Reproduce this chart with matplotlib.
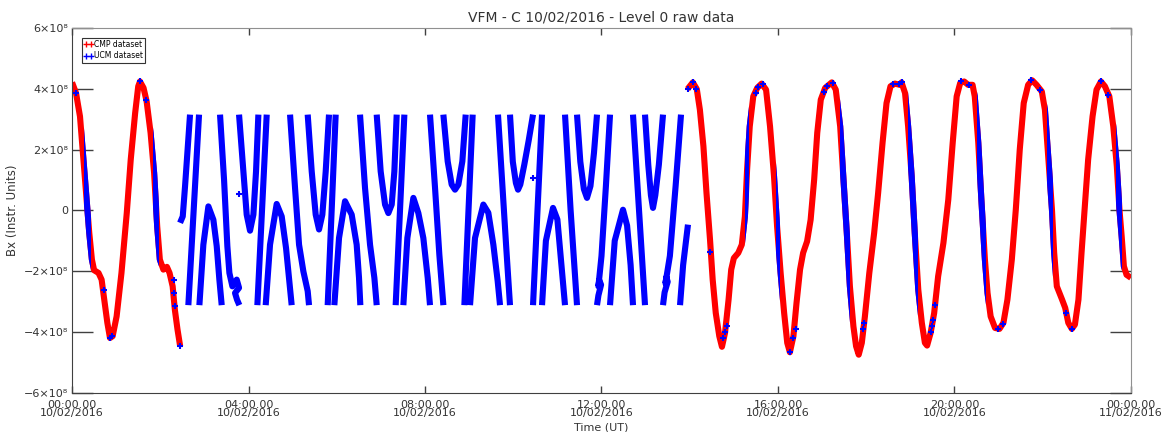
import numpy as np
import matplotlib.pyplot as plt
from matplotlib.lines import Line2D
from matplotlib.patches import Rectangle

nan = np.nan

# CMP dataset (red): hours after 00:00 UT 10/02/2016, Bx in units of 1e8
cmp_t1 = [0.00, 0.09, 0.18, 0.27, 0.33, 0.39, 0.45, 0.50, 0.60, 0.67, 0.73, 0.80,
          0.86, 0.92, 1.01, 1.12, 1.24, 1.33, 1.43, 1.50, 1.54, 1.62, 1.69, 1.78,
          1.86, 1.93, 1.99, 2.07, 2.15, 2.21, 2.28, 2.33, 2.39, 2.45]
cmp_v1 = [4.21, 3.86, 3.09, 1.45, 0.35, -0.74, -1.62, -1.97, -2.06, -2.28, -2.94, -3.70,
          -4.20, -4.14, -3.49, -2.06, -0.09, 1.67, 3.20, 4.08, 4.24, 4.03, 3.59, 2.55,
          1.23, -0.53, -1.62, -1.95, -1.86, -2.06, -2.50, -3.27, -3.92, -4.47]

cmp_t2 = [13.95, 14.07, 14.16, 14.23, 14.31, 14.38, 14.46, 14.52, 14.59, 14.67, 14.73, 14.80,
          14.88, 14.94, 15.00, 15.10, 15.18, 15.25, 15.30, 15.36, 15.44, 15.53, 15.63, 15.73,
          15.82, 15.91, 15.98, 16.06, 16.14, 16.21, 16.27, 16.35, 16.42, 16.50, 16.57, 16.66,
          16.74, 16.82, 16.89, 16.97, 17.07, 17.22, 17.31, 17.41, 17.48, 17.56, 17.63, 17.71,
          17.77, 17.83, 17.90, 17.97, 18.07, 18.18, 18.27, 18.37, 18.46, 18.55, 18.65, 18.76,
          18.80, 18.88, 18.95, 19.03, 19.10, 19.18, 19.26, 19.33, 19.38, 19.46, 19.54, 19.63,
          19.75, 19.86, 19.96, 20.05, 20.13, 20.22, 20.31, 20.41, 20.46, 20.54, 20.61, 20.69,
          20.75, 20.82, 20.92, 21.02, 21.11, 21.20, 21.30, 21.39, 21.48, 21.57, 21.67, 21.76,
          21.86, 21.98, 22.05, 22.13, 22.21, 22.26, 22.32, 22.44, 22.51, 22.58, 22.66, 22.73,
          22.81, 22.88, 22.96, 23.03, 23.13, 23.22, 23.32, 23.41, 23.51, 23.60, 23.68, 23.74,
          23.79, 23.84, 23.90, 24.00]
cmp_v2 = [3.99, 4.21, 3.99, 3.31, 2.11, 0.57, -0.97, -2.28, -3.38, -4.14, -4.49, -4.03,
          -2.94, -1.95, -1.57, -1.40, -1.13, -0.20, 1.34, 2.76, 3.75, 4.03, 4.17, 3.97,
          2.76, 1.12, -0.53, -2.06, -3.38, -4.36, -4.67, -4.14, -3.05, -1.95, -1.40, -1.02,
          -0.31, 1.01, 2.55, 3.64, 4.03, 4.21, 3.97, 2.76, 1.12, -0.74, -2.50, -3.82,
          -4.47, -4.75, -4.36, -3.49, -2.06, -0.74, 0.57, 2.22, 3.53, 4.08, 4.17, 4.13,
          4.21, 3.86, 2.76, 1.12, -0.74, -2.61, -3.70, -4.36, -4.45, -4.03, -3.38, -2.17,
          -1.07, 0.35, 2.22, 3.75, 4.19, 4.24, 4.13, 4.13, 3.75, 2.22, 0.35, -1.62,
          -2.72, -3.49, -3.87, -3.90, -3.70, -2.94, -1.62, 0.02, 2.00, 3.53, 4.13, 4.28,
          4.13, 3.91, 3.31, 1.67, 0.02, -1.40, -2.50, -2.94, -3.21, -3.70, -3.90, -3.76,
          -2.94, -1.40, 0.24, 1.67, 3.09, 3.97, 4.24, 4.08, 3.75, 2.76, 1.45, 0.02,
          -0.86, -1.84, -2.12, -2.22]

# UCM dataset (blue), wrapped section; strands separated by nan
ucm_t = [2.448, 2.509, 2.561, 2.613, 2.674, nan,
         2.636, 2.878, nan,
         2.886, 2.976, 3.090, 3.203, 3.279, 3.339, 3.392, nan,
         3.354, 3.445, 3.520, 3.566, 3.634, 3.732, 3.785, 3.694, 3.739, 3.792, nan,
         3.785, 3.883, 3.958, 4.034, 4.110, 4.170, 4.223, nan,
         4.200, 4.412, nan,
         4.389, 4.487, 4.638, 4.752, 4.850, 4.925, 4.978, nan,
         4.941, 5.054, 5.145, 5.243, 5.341, 5.371, nan,
         5.341, 5.432, 5.522, 5.598, 5.673, 5.749, 5.824, nan,
         5.794, 5.975, nan,
         5.945, 6.051, 6.187, 6.338, 6.451, 6.504, 6.534, nan,
         6.527, 6.640, 6.754, 6.852, 6.905, nan,
         6.905, 6.995, 7.094, 7.169, 7.245, 7.305, 7.358, nan,
         7.335, 7.532, nan,
         7.509, 7.600, 7.736, 7.849, 7.962, 8.061, 8.113, nan,
         8.113, 8.227, 8.325, 8.416, nan,
         8.416, 8.514, 8.604, 8.680, 8.756, 8.846, 8.922, nan,
         8.892, 9.080, nan,
         9.020, 9.133, 9.322, 9.435, 9.549, 9.647, 9.700, nan,
         9.654, 9.750, 9.840, 9.926, nan,
         9.926, 9.990, 10.060, 10.108, 10.160, 10.250, 10.350, 10.448, nan,
         10.448, 10.652, nan,
         10.652, 10.740, 10.901, 11.000, 11.080, 11.173, nan,
         11.173, 11.300, 11.445, nan,
         11.445, 11.520, 11.600, 11.671, 11.750, 11.830, 11.898, nan,
         11.898, 11.930, 11.990, 11.950, 11.930, 12.000, 12.100, 12.193, nan,
         12.193, 12.300, 12.487, 12.580, 12.660, 12.714, nan,
         12.714, 12.850, 12.986, nan,
         12.986, 13.060, 13.120, 13.167, 13.220, 13.300, 13.394, nan,
         13.394, 13.430, 13.500, 13.470, 13.450, 13.550, 13.680, 13.802, nan,
         13.780, 13.850, 13.960]
ucm_v = [-0.41, -0.20, 0.79, 1.89, 3.15, nan,
         -3.12, 3.15, nan,
         -3.12, -1.13, 0.13, -0.31, -1.18, -2.28, -3.12, nan,
         3.15, 1.01, -1.18, -2.06, -2.50, -2.28, -2.55, -2.72, -2.94, -3.12, nan,
         3.15, 1.28, -0.14, -0.67, -0.14, 1.28, 3.15, nan,
         -3.12, 3.15, nan,
         -3.12, -1.13, 0.21, -0.20, -1.24, -2.33, -3.12, nan,
         3.15, 0.74, -1.13, -2.01, -2.66, -3.12, nan,
         3.15, 1.28, -0.14, -0.63, -0.14, 1.28, 3.15, nan,
         -3.12, 3.15, nan,
         -3.12, -0.91, 0.30, -0.14, -1.13, -2.22, -3.12, nan,
         3.15, 0.74, -1.13, -2.22, -3.12, nan,
         3.15, 1.28, 0.19, -0.09, 0.19, 1.28, 3.15, nan,
         -3.12, 3.15, nan,
         -3.12, -0.91, 0.41, -0.09, -0.91, -2.22, -3.12, nan,
         3.15, 0.74, -1.46, -3.12, nan,
         3.15, 1.61, 0.85, 0.68, 0.85, 1.61, 3.15, nan,
         -3.12, 3.15, nan,
         -3.12, -0.91, 0.19, -0.08, -1.13, -2.33, -3.12, nan,
         3.15, 0.90, -1.20, -3.12, nan,
         3.15, 1.60, 0.90, 0.68, 0.85, 1.50, 2.30, 3.15, nan,
         -3.12, 3.15, nan,
         -3.12, -1.00, 0.08, -0.30, -1.60, -3.12, nan,
         3.15, 0.00, -3.12, nan,
         3.15, 1.60, 0.70, 0.41, 0.80, 1.90, 3.15, nan,
         -3.12, -2.80, -2.45, -2.30, -2.50, -1.50, 0.80, 3.15, nan,
         -3.12, -1.00, 0.02, -0.50, -1.80, -3.12, nan,
         3.15, 0.00, -3.12, nan,
         3.15, 1.50, 0.50, 0.08, 0.50, 1.50, 3.15, nan,
         -3.12, -2.70, -2.35, -2.20, -2.40, -1.50, 0.80, 3.15, nan,
         -3.12, -1.80, -0.47]

# time spans where UCM samples overlap the CMP curve
ucm_overlap = [(0.27, 0.42), (1.84, 1.96), (15.25, 15.35), (15.95, 16.05),
               (17.40, 17.63), (18.95, 19.18), (20.52, 20.71), (22.09, 22.24),
               (23.66, 23.79)]

# isolated UCM samples
ucm_pt_t = [0.09, 0.73, 0.86, 0.90, 1.54, 1.68, 2.30, 2.32, 2.33, 2.45, 3.78, 10.44,
            13.97, 14.07, 14.14, 14.47, 14.76, 14.80, 14.84, 15.50, 15.55, 15.65,
            16.27, 16.35, 16.40, 17.04, 17.10, 17.25, 17.93, 17.96, 18.60, 18.75,
            18.80, 19.47, 19.50, 19.52, 19.56, 20.15, 20.34, 20.99, 21.10, 21.74,
            21.93, 22.53, 22.66, 23.32, 23.49]
ucm_pt_v = [3.86, -2.61, -4.20, -4.15, 4.24, 3.62, -2.28, -2.72, -3.16, -4.47, 0.54, 1.05,
            4.00, 4.21, 4.00, -1.38, -4.20, -4.00, -3.80, 3.86, 4.05, 4.15,
            -4.65, -4.20, -3.90, 3.90, 4.10, 4.20, -3.90, -3.70, 4.15, 4.15,
            4.21, -3.99, -3.80, -3.60, -3.10, 4.24, 4.13, -3.90, -3.75, 4.28,
            3.95, -3.38, -3.90, 4.24, 3.80]

tick_hours = [0, 4, 8, 12, 16, 20, 24]
tick_labels = ['00:00.00\n10/02/2016', '04:00.00\n10/02/2016', '08:00.00\n10/02/2016',
               '12:00.00\n10/02/2016', '16:00.00\n10/02/2016', '20:00.00\n10/02/2016',
               '00:00.00\n11/02/2016']
y_ticks = [-6, -4, -2, 0, 2, 4, 6]

txt = '#333333'
lw = 4.4

fig = plt.figure(figsize=(11.64, 4.32), dpi=100)
ax = fig.add_axes([0.0619, 0.0910, 0.9097, 0.8442])

ax.plot(cmp_t1, cmp_v1, color='red', lw=lw, solid_joinstyle='round', solid_capstyle='butt')
ax.plot(cmp_t2, cmp_v2, color='red', lw=lw, solid_joinstyle='round', solid_capstyle='butt')

for t0, t1 in ucm_overlap:
    for tt, vv in ((cmp_t1, cmp_v1), (cmp_t2, cmp_v2)):
        ln, = ax.plot(tt, vv, color='blue', lw=lw, solid_joinstyle='round')
        ln.set_clip_path(Rectangle((t0, -10), t1 - t0, 20, transform=ax.transData))

ax.plot(ucm_t, ucm_v, color='blue', lw=lw, solid_joinstyle='round', solid_capstyle='butt')
ax.plot(ucm_pt_t, ucm_pt_v, linestyle='none', marker='+', color='blue', ms=5, mew=1.5)

ax.set_xlim(0, 24)
ax.set_ylim(-6, 6)
ax.set_xticks(tick_hours)
ax.set_xticklabels(tick_labels, fontsize=8, color=txt, linespacing=0.8)
ax.set_yticks(y_ticks)
ax.set_yticklabels(['0' if k == 0 else f'{k}×10⁸'.replace('-', '−') for k in y_ticks],
                   fontsize=8, color=txt)
ax.tick_params(axis='y', direction='in', length=15, width=1, color='#404040',
               right=True, pad=3)
ax.tick_params(axis='x', direction='in', length=5, width=1, color='#404040',
               top=True, pad=5)
for s in ('left', 'bottom'):
    ax.spines[s].set_color('#404040')
for s in ('top', 'right'):
    ax.spines[s].set_color('#909090')

ax.set_xlabel('Time (UT)', fontsize=8, color=txt)
ax.xaxis.set_label_coords(0.5, -0.083)
ax.set_ylabel('Bx (Instr. Units)', fontsize=8.5, color=txt)
ax.yaxis.set_label_coords(-0.050, 0.5)
fig.text(0.5168, 0.9606, 'VFM - C 10/02/2016 - Level 0 raw data', ha='center',
         va='center', fontsize=10, color=txt)

handles = [Line2D([], [], color='red', marker='+', linestyle='none', ms=4, mew=1),
           Line2D([], [], color='blue', marker='+', linestyle='none', ms=4, mew=1)]
leg = ax.legend(handles, ['CMP dataset', 'UCM dataset'], loc='upper left',
                bbox_to_anchor=(0.009, 0.973), numpoints=2, fontsize=5.5,
                handlelength=1.2, handletextpad=0.1, borderpad=0.3,
                labelspacing=0.3, borderaxespad=0, fancybox=False,
                framealpha=1, edgecolor='#333333')
leg.get_frame().set_linewidth(0.8)

fig.savefig('out.png', dpi=100)
